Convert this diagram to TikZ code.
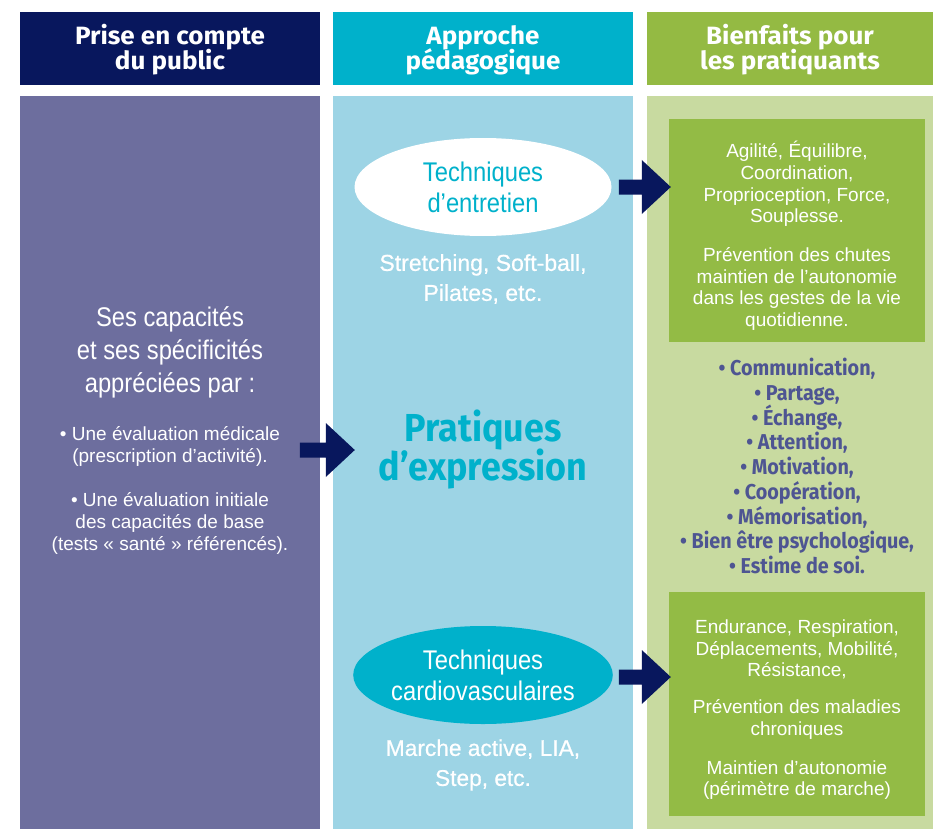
\documentclass[tikz,border=0pt]{standalone}
\usepackage{fontspec}
\setmainfont{Liberation Sans}
\newfontfamily\condfont[FakeStretch=0.88]{Liberation Sans}
\newfontfamily\medfont[FakeBold=0.7]{Liberation Sans}
\newfontfamily\boldfiracond[FakeStretch=0.92]{Fira Sans Bold}
\newfontfamily\boldfirahdr[FakeStretch=1.04]{Fira Sans Bold}
\newcommand{\tightlines}{\lineskiplimit=-50pt\lineskip=0pt}
\usetikzlibrary{shapes.geometric,calc}
\definecolor{navy}{HTML}{08175D}
\definecolor{cyanh}{HTML}{00B1CB}
\definecolor{greenh}{HTML}{94BA43}
\definecolor{purpleb}{HTML}{6D6E9E}
\definecolor{blueb}{HTML}{9DD4E5}
\definecolor{greenb}{HTML}{C8DAA0}
\definecolor{greenbox}{HTML}{93BB45}
\definecolor{bullettxt}{HTML}{4E5592}
\tikzset{
  hdrbox/.style={rectangle, inner sep=0pt, minimum height=73pt},
  hdrtxt/.style={align=center, inner sep=0pt, text=white,
    font=\boldfirahdr\fontsize{25}{25}\selectfont\tightlines},
  panelbox/.style={rectangle, inner sep=0pt, minimum height=733pt},
  gbox/.style={rectangle, fill=greenbox, inner sep=0pt, minimum width=256pt},
  plaintxt/.style={align=center, inner sep=0pt, text=white},
  techell/.style={ellipse, inner sep=0pt, minimum width=257pt, minimum height=98pt, align=center,
    font=\condfont\fontsize{27}{31}\selectfont\tightlines},
  boxtxt/.style={plaintxt, font=\fontsize{19}{21.7}\selectfont\tightlines},
  blockarr/.style={fill=navy},
}
\newcommand{\blockarrowat}[2]{%
  \begin{scope}[shift={(#1)}]
    \fill[blockarr] (-#2,-7.5) -- (-29,-7.5) -- (-29,-27) -- (0,0) -- (-29,27) -- (-29,7.5) -- (-#2,7.5) -- cycle;
  \end{scope}}
\begin{document}
\begin{tikzpicture}[x=1pt,y=-1pt]
\useasboundingbox (0,0) rectangle (933,829);
\fill[white] (0,0) rectangle (933,829);
% headers
\node[hdrbox, fill=navy, minimum width=300pt] (H1) at (170,48.5) {};
\node[hdrbox, fill=cyanh, minimum width=300pt] (H2) at (483,48.5) {};
\node[hdrbox, fill=greenh, minimum width=286pt] (H3) at (790,48.5) {};
\node[hdrtxt] (H1t) at (170,50) {Prise en compte\\du public};
\node[hdrtxt] (H2t) at (483,50) {Approche\\pédagogique};
\node[hdrtxt] (H3t) at (790,50) {Bienfaits pour\\les pratiquants};
% panels
\node[panelbox, fill=purpleb, minimum width=300pt] (P1) at (170,462.5) {};
\node[panelbox, fill=blueb, minimum width=300pt] (P2) at (483,462.5) {};
\node[panelbox, fill=greenb, minimum width=286pt] (P3) at (790,462.5) {};
% left column
\node[plaintxt, font=\condfont\fontsize{27}{33}\selectfont\tightlines] (L1) at (170,352) {Ses capacités\\et ses spécificités\\appréciées par :};
\node[plaintxt, font=\fontsize{19}{22}\selectfont\tightlines] (L2) at (170,446) {• Une évaluation médicale\\(prescription d’activité).};
\node[plaintxt, font=\fontsize{19}{22}\selectfont\tightlines] (L3) at (170,523) {• Une évaluation initiale\\des capacités de base\\(tests « santé » référencés).};
% middle column
\node[techell, fill=white, text=cyanh] (E1) at (483,187) {Techniques\\d’entretien};
\node[plaintxt, font=\medfont\fontsize{23}{30}\selectfont\tightlines] (M1) at (483,279) {Stretching, Soft-ball,\\Pilates, etc.};
\node[plaintxt, text=cyanh, font=\boldfiracond\fontsize{39}{39}\selectfont\tightlines] (M2) at (483,450) {Pratiques\\d’expression};
\node[techell, fill=cyanh, text=white] (E2) at (483,675) {Techniques\\cardiovasculaires};
\node[plaintxt, font=\medfont\fontsize{22.7}{30}\selectfont\tightlines] (M3) at (483,765) {Marche active, LIA,\\Step, etc.};
% right column
\node[gbox, minimum height=223pt] (G1) at (797,230.5) {};
\node[boxtxt] (G1a) at (797,184) {Agilité, Équilibre,\\Coordination,\\Proprioception, Force,\\Souplesse.};
\node[boxtxt] (G1b) at (797,289) {Prévention des chutes\\maintien de l’autonomie\\dans les gestes de la vie\\quotidienne.};
\node[plaintxt, text=bullettxt, font=\boldfiracond\fontsize{21.5}{24.75}\selectfont\tightlines] (B) at (797,466) {• Communication,\\• Partage,\\• Échange,\\• Attention,\\• Motivation,\\• Coopération,\\• Mémorisation,\\• Bien être psychologique,\\• Estime de soi.};
\node[gbox, minimum height=224pt] (G2) at (797,704) {};
\node[boxtxt] (G2a) at (797,649.5) {Endurance, Respiration,\\Déplacements, Mobilité,\\Résistance,};
\node[boxtxt] (G2b) at (797,719.5) {Prévention des maladies\\chroniques};
\node[boxtxt] (G2c) at (797,780) {Maintien d’autonomie\\(périmètre de marche)};
% arrows
\coordinate (T1) at ($(G1.west |- E1.center)+(2,0)$);
\coordinate (T2) at ($(P2.west)+(22,-12.5)$);
\coordinate (T3) at ($(G2.west |- E2.center)+(2,2)$);
\blockarrowat{T1}{52}
\blockarrowat{T2}{55}
\blockarrowat{T3}{52}
\end{tikzpicture}
\end{document}
